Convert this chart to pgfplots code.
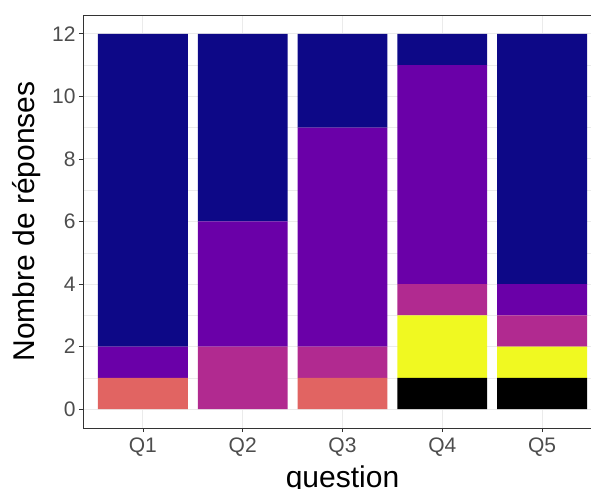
\documentclass[border=0pt]{standalone}
\usepackage{pgfplots}
\pgfplotsset{compat=1.18}
\usepackage{fontspec}
\setmainfont{Liberation Sans}
\definecolor{cBlue}{HTML}{0D0887}
\definecolor{cPurple}{HTML}{6A00A8}
\definecolor{cMagenta}{HTML}{B12A90}
\definecolor{cSalmon}{HTML}{E16462}
\definecolor{cYellow}{HTML}{F0F921}
\definecolor{cBlack}{HTML}{000000}
\definecolor{gridgray}{HTML}{EBEBEB}
\definecolor{border}{HTML}{333333}
\definecolor{tickgray}{HTML}{4D4D4D}
\begin{document}
\begin{tikzpicture}
\begin{axis}[
  width=519pt, height=413pt, scale only axis,
  xmin=0.4, xmax=5.6, ymin=-0.6, ymax=12.6,
  ybar stacked, bar width=0.9,
  xtick={1,2,3,4,5}, xticklabels={Q1,Q2,Q3,Q4,Q5},
  ytick={0,2,...,12}, minor ytick={1,3,...,11},
  grid=both,
  major grid style={color=gridgray, line width=1pt},
  minor grid style={color=gridgray, line width=0.5pt},
  tick align=outside, tick pos=left,
  major tick length=4pt, minor tick length=0pt,
  tick style={color=border, line width=0.6pt},
  axis line style={color=border, line width=0.6pt},
  ticklabel style={font=\fontsize{21}{25}\selectfont, color=tickgray},
  xticklabel style={yshift=-2pt},
  /pgf/number format/assume math mode=true,
  xlabel={question}, ylabel={Nombre de réponses},
  label style={font=\fontsize{30}{36}\selectfont},
  xlabel style={at={(axis description cs:0.5,-0.1429)}, anchor=base},
  ylabel style={at={(axis description cs:-0.0925,0.5)}, anchor=base},
]
\addplot[fill=cBlack, draw=none] coordinates {(1,0) (2,0) (3,0) (4,1) (5,1)};
\addplot[fill=cYellow, draw=none] coordinates {(1,0) (2,0) (3,0) (4,2) (5,1)};
\addplot[fill=cSalmon, draw=none] coordinates {(1,1) (2,0) (3,1) (4,0) (5,0)};
\addplot[fill=cMagenta, draw=none] coordinates {(1,0) (2,2) (3,1) (4,1) (5,1)};
\addplot[fill=cPurple, draw=none] coordinates {(1,1) (2,4) (3,7) (4,7) (5,1)};
\addplot[fill=cBlue, draw=none] coordinates {(1,10) (2,6) (3,3) (4,1) (5,8)};
\coordinate (bl) at (rel axis cs:0,0);
\end{axis}
\pgfresetboundingbox
\useasboundingbox ([shift={(-83pt,-61pt)}]bl) rectangle ([shift={(508pt,428pt)}]bl);
\end{tikzpicture}
\end{document}
